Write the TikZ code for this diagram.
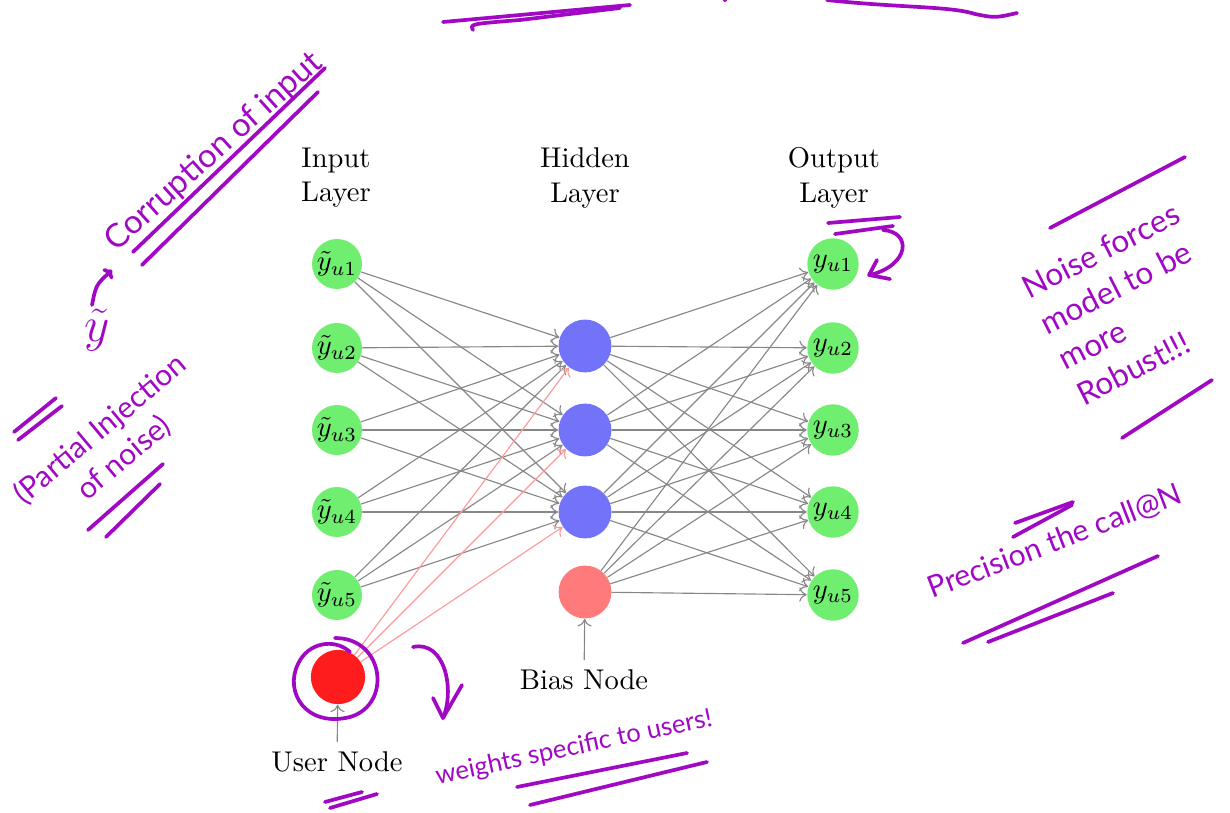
\documentclass[tikz,border=0pt]{standalone}
\usepackage{fontspec}
\usetikzlibrary{arrows.meta}
\newfontfamily\handfont{Lato}
\definecolor{ingreen}{RGB}{112,238,112}
\definecolor{hidblue}{RGB}{115,115,250}
\definecolor{biasred}{RGB}{255,122,122}
\definecolor{userred}{RGB}{255,28,28}
\definecolor{ink}{RGB}{160,8,196}
\begin{document}
\begin{tikzpicture}[x=0.35pt,y=-0.35pt,>={To[length=2.6pt,width=5pt]},line join=round,line cap=round,
	unit/.style={circle,inner sep=0pt,minimum size=17.5pt},
	inunit/.style={unit,fill=ingreen},
	outunit/.style={unit,fill=ingreen,minimum size=18pt},
	hidunit/.style={unit,fill=hidblue,minimum size=18.5pt},
	biasunit/.style={unit,fill=biasred,minimum size=18.5pt},
	userunit/.style={unit,fill=userred,minimum size=19pt},
	conn/.style={->,draw=black!47,line width=0.4pt},
	uconn/.style={->,draw=red!40,line width=0.4pt},
	layer/.style={align=center,font=\normalsize},
	pen/.style={draw=ink,line width=1.3pt},
	note/.style={text=ink,inner sep=1pt,font=\handfont\fontsize{10.5}{13}\selectfont}]
	\useasboundingbox (0,0) rectangle (1230,813);
	% layers
	\node[layer] (inlab) at (336,178) {Input\\Layer};
	\node[layer] (hidlab) at (585,178) {Hidden\\Layer};
	\node[layer] (outlab) at (834,178) {Output\\Layer};
	\foreach \i/\y in {1/264,2/348,3/430,4/512,5/595}{
		\node[inunit] (I\i) at (337,\y) {$\tilde{y}_{u\i}$};
		\node[outunit] (O\i) at (833,\y) {$y_{u\i}$};
	}
	\foreach \j/\y in {1/346,2/430,3/512}
		\node[hidunit] (H\j) at (585,\y) {};
	\node[biasunit] (B) at (585,592) {};
	\node[userunit] (U) at (338,677) {};
	% connections
	\foreach \i in {1,...,5}
		\foreach \j in {1,2,3}
			\draw[conn] (I\i) -- (H\j);
	\foreach \j in {1,2,3}
		\draw[uconn] (U) -- (H\j);
	\foreach \j in {1,2,3}
		\foreach \k in {1,...,5}
			\draw[conn] (H\j) -- (O\k);
	\foreach \k in {1,...,5}
		\draw[conn] (B) -- (O\k);
	\node (biaslab) at (584,680) {Bias Node};
	\node (userlab) at (337,762) {User Node};
	\draw[conn] (biaslab) -- (B);
	\draw[conn] (userlab) -- (U);
	% handwritten notes
	\node[note,rotate=42,font=\handfont\fontsize{11.5}{14}\selectfont] (corrupt) at (214,152) {Corruption of input};
	\draw[pen] (133,252) -- (325,68);
	\draw[pen] (142,265) -- (318,92);
	\node[text=ink,font=\LARGE] (ytil) at (97,330) {$\tilde{y}$};
	\draw[pen,->] (92,305) .. controls (96,285) .. (112,270);
	\node[note,rotate=40,align=center] (partial) at (112,444) {(Partial Injection\\of noise)};
	\draw[pen] (14,432) -- (56,398);
	\draw[pen] (18,440) -- (62,406);
	\draw[pen] (88,530) -- (163,464);
	\draw[pen] (106,537) -- (160,484);
	\node[note,rotate=27,align=left,font=\handfont\fontsize{11}{14}\selectfont] (robust) at (1128,304) {Noise forces\\model to be\\more\\Robust!!!};
	\draw[pen] (1050,228) -- (1185,157);
	\draw[pen] (1122,438) -- (1212,380);
	\node[note,rotate=21] (precision) at (1055,542) {Precision the call@N};
	\draw[pen] (1015,523) -- (1073,502);
	\draw[pen] (1013,537) -- (1072,505);
	\draw[pen] (963,643) -- (1158,556);
	\draw[pen] (988,642) -- (1113,593);
	\node[note,rotate=12,font=\handfont\fontsize{9}{11}\selectfont] (specific) at (574,748) {weights specific to users!};
	\draw[pen] (517,787) -- (687,753);
	\draw[pen] (530,805) -- (707,762);
	\draw[pen] (335,638) .. controls (385,638) and (392,705) .. (350,717)
		.. controls (306,728) and (284,692) .. (298,664)
		.. controls (308,642) and (335,638) .. (350,652);
	\draw[pen] (413,647) .. controls (445,640) and (455,690) .. (443,718);
	\draw[pen] (433,698) -- (443,718) -- (462,685);
	\draw[pen] (325,802) -- (362,792);
	\draw[pen] (330,808) -- (377,794);
	\draw[pen] (828,223) -- (900,217);
	\draw[pen] (835,234) -- (893,226);
	\draw[pen] (883,230) .. controls (912,232) and (910,265) .. (870,275);
	\draw[pen] (877,260) -- (869,275) -- (890,279);
	\draw[pen] (443,22) -- (630,5);
	\draw[pen] (473,30) .. controls (470,24) .. (520,20) -- (620,8);
	\draw[pen] (827,0) .. controls (900,8) and (950,6) .. (975,14) .. controls (995,18) .. (1017,13);
	\fill[ink] (725,0) circle (2);
\end{tikzpicture}
\end{document}
